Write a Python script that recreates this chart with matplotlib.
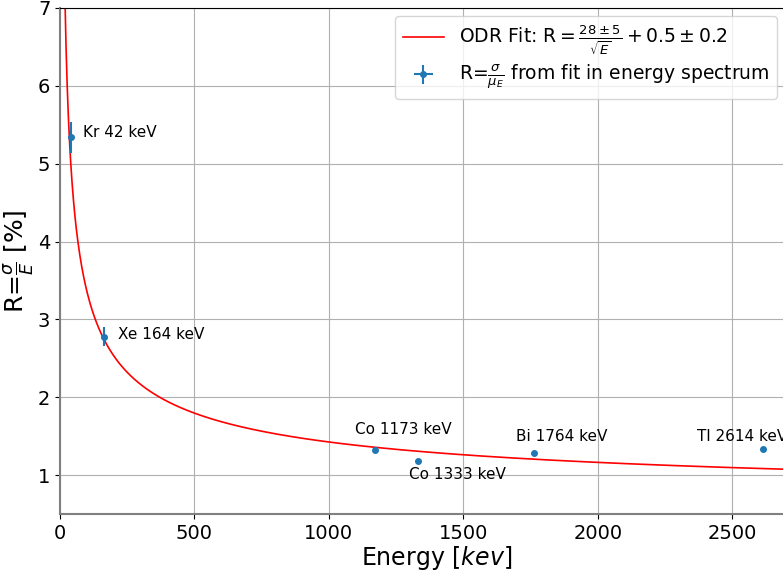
import numpy as np
import matplotlib
matplotlib.use("Agg")
import matplotlib.pyplot as plt

# Measured resolution per calibration line
labels = ["Kr 42 keV", "Xe 164 keV", "Co 1173 keV", "Co 1333 keV", "Bi 1764 keV", "Tl 2614 keV"]
energy = [42, 164, 1173, 1333, 1764, 2614]
energy_err = [2, 2, 2, 2, 2, 2]
resolution = [5.34, 2.78, 1.32, 1.18, 1.28, 1.34]
resolution_err = [0.20, 0.12, 0.02, 0.02, 0.02, 0.02]

# ODR fit parameters R = a / sqrt(E) + b
fit_a = 28.3
fit_b = 0.53

fig = plt.figure(figsize=(7.83, 5.72), dpi=100)
ax = fig.add_axes([60 / 783, 58 / 572, 753 / 783, 506 / 572])

e_fit = np.linspace(10, 2800, 2000)
ax.plot(e_fit, fit_a / np.sqrt(e_fit) + fit_b, color="red", lw=1.2,
        label=r"ODR Fit: R$=\frac{28\pm5}{\sqrt{E}}+0.5\pm0.2$")
ax.errorbar(energy, resolution, xerr=energy_err, yerr=resolution_err, fmt="o", ms=4,
            color="#1f77b4", elinewidth=1.5, capsize=0,
            label=r"R=$\frac{\sigma}{\mu_E}$ from fit in energy spectrum")

# label placement (data coords, alignment)
text_pos = [
    (85, 5.40, "left", "center"),
    (215, 2.80, "left", "center"),
    (1275, 1.58, "center", "center"),
    (1476, 1.01, "center", "center"),
    (1866, 1.50, "center", "center"),
    (2368, 1.50, "left", "center"),
]
for lab, (tx, ty, ha, va) in zip(labels, text_pos):
    ax.text(tx, ty, lab, ha=ha, va=va, fontsize=11)

ax.set_xlim(0, 2800)
ax.set_ylim(0.5, 7)
ax.set_xticks([0, 500, 1000, 1500, 2000, 2500])
ax.set_yticks([1, 2, 3, 4, 5, 6, 7])
ax.tick_params(labelsize=14)
ax.grid(True, color="#b0b0b0", lw=0.8)
ax.set_axisbelow(True)
ax.set_xlabel(r"Energy [$kev$]", fontsize=17, labelpad=1)
ax.set_ylabel(r"R=$\frac{\sigma}{E}$ [%]", fontsize=18, labelpad=1)
for s in ("left", "bottom"):
    ax.spines[s].set_color("#808080")
    ax.spines[s].set_linewidth(1.5)

fig.legend(loc="upper right", bbox_to_anchor=(777 / 783, 1 - 16 / 572),
           fontsize=13.5, framealpha=0.8, borderaxespad=0, labelspacing=0.3,
           handlelength=2.2, borderpad=0.4)

fig.savefig("out.png", dpi=100)
